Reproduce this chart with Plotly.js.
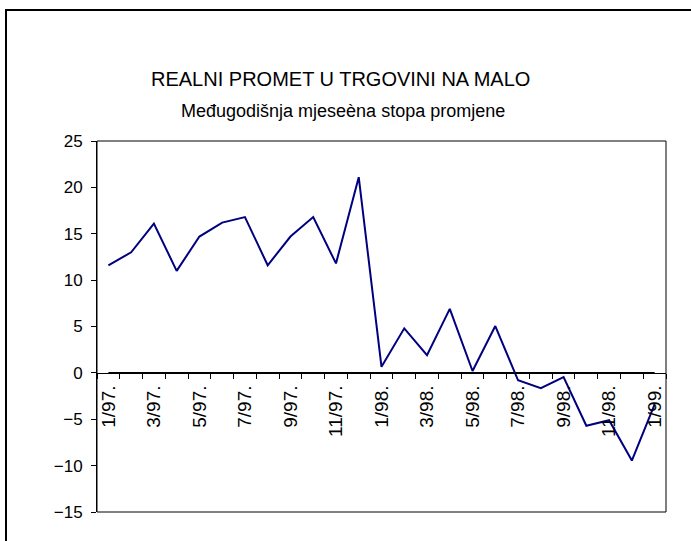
<!DOCTYPE html>
<html>
<head>
<meta charset="utf-8">
<script src="https://cdn.plot.ly/plotly-3.0.1.min.js"></script>
<style>
  html, body { margin: 0; padding: 0; background: #fff; }
  #chart { width: 691px; height: 541px; }
</style>
</head>
<body>
<div id="chart"></div>
<script>
// Categories: months 1/97 .. 1/99
const months = ["1/97.","2/97.","3/97.","4/97.","5/97.","6/97.","7/97.","8/97.","9/97.","10/97.","11/97.","12/97.",
                "1/98.","2/98.","3/98.","4/98.","5/98.","6/98.","7/98.","8/98.","9/98.","10/98.","11/98.","12/98.",
                "1/99."];
// Year-on-year monthly rate of change (%)
const rate = [11.6, 13.0, 16.1, 11.0, 14.7, 16.2, 16.8, 11.6, 14.7, 16.8, 11.8, 21.1,
              0.65, 4.8, 1.9, 6.9, 0.2, 5.05, -0.8, -1.65, -0.45, -5.7, -5.1, -9.45, -3.4];
// Zero reference series
const zeroLine = [0,0,0,0,0,0,0,0,0,0,0,0,0,0,0,0,0,0,0,0,0,0,0,0,0];
// Tick labels shown (every second month)
const tickLabels = months.map((m, i) => (i % 2 === 0 ? m : ""));

const titleText = "REALNI PROMET U TRGOVINI NA MALO";
const subtitleText = "Međugodišnja mjeseèna stopa promjene";

const FONT = "Arial, 'Liberation Sans', sans-serif";
const W = 691, H = 541;
const L = 97, R = 25, T = 141, B = 29;
const pw = W - L - R, ph = H - T - B;
const px = x => (x - L) / pw;
const py = y => (H - B - y) / ph;

const yMin = -15, yMax = 25;

const traces = [
  {
    x: months, y: zeroLine, type: "scatter", mode: "lines",
    line: { color: "#000000", width: 2 }, hoverinfo: "skip", showlegend: false
  },
  {
    x: months, y: rate, type: "scatter", mode: "lines",
    line: { color: "#000080", width: 2 }, showlegend: false
  }
];

const layout = {
  width: W, height: H,
  margin: { l: L, r: R, t: T, b: B, pad: 0 },
  paper_bgcolor: "#ffffff", plot_bgcolor: "#ffffff",
  font: { family: FONT, color: "#000000", size: 16 },
  showlegend: false,
  xaxis: {
    type: "category",
    categoryorder: "array", categoryarray: months,
    range: [-0.5, months.length - 0.5],
    anchor: "free",
    position: (0 - yMin) / (yMax - yMin),
    showline: true, linecolor: "#000000", linewidth: 1,
    showgrid: false, zeroline: false,
    ticks: "outside", ticklen: 5, tickcolor: "#000000", tickwidth: 1,
    tickson: "boundaries",
    tickmode: "array", tickvals: months, ticktext: tickLabels,
    tickangle: -90,
    tickfont: { family: FONT, size: 19, color: "#000000" },
    ticklabelstandoff: 4
  },
  yaxis: {
    range: [yMin, yMax],
    tickmode: "linear", tick0: -15, dtick: 5,
    showline: true, linecolor: "#000000", linewidth: 1,
    showgrid: false, zeroline: false,
    ticks: "outside", ticklen: 5, tickcolor: "#000000", tickwidth: 1,
    tickfont: { family: FONT, size: 17, color: "#000000" },
    ticklabelstandoff: 5
  },
  shapes: [
    { type: "rect", xref: "paper", yref: "paper", x0: 0, x1: 1, y0: 0, y1: 1,
      line: { color: "#000000", width: 1 }, fillcolor: "rgba(0,0,0,0)", layer: "above" },
    { type: "rect", xref: "paper", yref: "paper", x0: px(6), x1: px(760), y0: py(10), y1: py(620),
      line: { color: "#000000", width: 2 }, fillcolor: "rgba(0,0,0,0)" }
  ],
  annotations: [
    { text: titleText, xref: "paper", yref: "paper", x: px(340), y: py(79),
      xanchor: "center", yanchor: "middle", showarrow: false,
      font: { family: FONT, size: 20, color: "#000000" } },
    { text: subtitleText, xref: "paper", yref: "paper", x: px(343), y: py(111),
      xanchor: "center", yanchor: "middle", showarrow: false,
      font: { family: FONT, size: 18, color: "#000000" } }
  ]
};

Plotly.newPlot("chart", traces, layout, { displayModeBar: false, staticPlot: true });
</script>
</body>
</html>
